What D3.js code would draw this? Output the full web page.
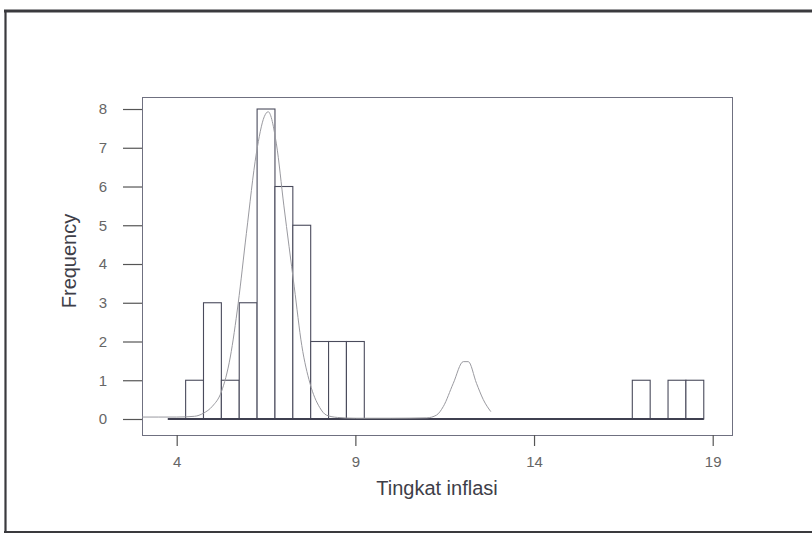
<!DOCTYPE html>
<html>
<head>
<meta charset="utf-8">
<script src="https://cdn.jsdelivr.net/npm/d3@7/dist/d3.min.js"></script>
<style>
  html, body { margin: 0; padding: 0; background: #fff; }
  svg { display: block; }
  text { font-family: "Liberation Sans", Arial, sans-serif; }
</style>
</head>
<body>
<svg id="chart" width="812" height="539"></svg>
<script>
// Histogram of inflation rates: lower bin edges (width 0.5) and counts
const binStarts = [3.75, 4.25, 4.75, 5.25, 5.75, 6.25, 6.75, 7.25, 7.75, 8.25,
                   8.75, 9.25, 9.75, 10.25, 10.75, 11.25, 11.75, 12.25, 12.75, 13.25,
                   13.75, 14.25, 14.75, 15.25, 15.75, 16.25, 16.75, 17.25, 17.75, 18.25];
const counts    = [0, 1, 3, 1, 3, 8, 6, 5, 2, 2,
                   2, 0, 0, 0, 0, 0, 0, 0, 0, 0,
                   0, 0, 0, 0, 0, 0, 1, 0, 1, 1];
const binWidth = 0.5;

// Fitted density curve (scaled to frequency)
const curveX = [3.03, 3.5, 4.0, 4.5, 4.75, 5.0, 5.25, 5.5, 5.72, 5.95, 6.23, 6.45, 6.56,
                6.79, 7.0, 7.29, 7.5, 7.73, 8.0, 8.19, 8.5, 9.0, 10.0, 11.0,
                11.27, 11.46, 11.74, 12.02, 12.16, 12.39, 12.58, 12.79];
const curveY = [0.05, 0.05, 0.05, 0.07, 0.15, 0.33, 0.70, 1.6, 2.98, 4.79, 6.86, 7.8, 7.93,
                7.1, 5.5, 3.41, 1.9, 0.92, 0.3, 0.1, 0.04, 0.02, 0.02, 0.03,
                0.10, 0.32, 0.92, 1.48, 1.48, 0.92, 0.50, 0.19];

const xTicks = [4, 9, 14, 19];
const yTicks = [0, 1, 2, 3, 4, 5, 6, 7, 8];
const xTitle = "Tingkat inflasi";
const yTitle = "Frequency";

const svg = d3.select("#chart");

// plot box
const box = { left: 142, top: 97, right: 732, bottom: 435 };

const x = d3.scaleLinear().domain([3.029, 19.54]).range([box.left, box.right]);
const y = d3.scaleLinear().domain([-0.413, 8.31]).range([box.bottom, box.top]);

// outer frame
const frame = svg.append("g").attr("stroke", "#3a3a3e").attr("fill", "none");
frame.append("line").attr("x1", 4).attr("x2", 812).attr("y1", 11).attr("y2", 11).attr("stroke-width", 3);
frame.append("line").attr("x1", 5.5).attr("x2", 5.5).attr("y1", 10).attr("y2", 533).attr("stroke-width", 2.2);
frame.append("line").attr("x1", 4).attr("x2", 812).attr("y1", 532).attr("y2", 532).attr("stroke-width", 2.2);

// plot border
svg.append("rect")
  .attr("x", box.left + 0.5).attr("y", box.top + 0.5)
  .attr("width", box.right - box.left).attr("height", box.bottom - box.top)
  .attr("fill", "none").attr("stroke", "#6f7080").attr("stroke-width", 1);

// y axis (ticks outside the left side of the box)
const yAxis = d3.axisLeft(y).tickValues(yTicks).tickFormat(d3.format("d"))
  .tickSize(19).tickPadding(16);
const gy = svg.append("g").attr("transform", `translate(${box.left},0)`).call(yAxis);
gy.select(".domain").remove();
gy.selectAll(".tick line").attr("stroke", "#555").attr("stroke-width", 1.2);
gy.selectAll(".tick text").attr("fill", "#666").style("font-size", "15px")
  .style("font-family", "'Liberation Sans', Arial, sans-serif");

// x axis (ticks below the box)
const xAxis = d3.axisBottom(x).tickValues(xTicks).tickFormat(d3.format("d"))
  .tickSize(11).tickPadding(10);
const gx = svg.append("g").attr("transform", `translate(0,${box.bottom})`).call(xAxis);
gx.select(".domain").remove();
gx.selectAll(".tick line").attr("stroke", "#555").attr("stroke-width", 1.2);
gx.selectAll(".tick text").attr("fill", "#666").style("font-size", "15px")
  .style("font-family", "'Liberation Sans', Arial, sans-serif");

// histogram bars
const bins = binStarts.map((s, i) => ({ x0: s, x1: s + binWidth, n: counts[i] }));
svg.append("g")
  .selectAll("rect")
  .data(bins)
  .join("rect")
  .attr("x", d => x(d.x0))
  .attr("y", d => y(d.n))
  .attr("width", d => x(d.x1) - x(d.x0))
  .attr("height", d => y(0) - y(d.n))
  .attr("fill", "#fff")
  .attr("stroke", "#4a4b5c")
  .attr("stroke-width", 1.1);

// baseline under the bins
svg.append("line")
  .attr("x1", x(binStarts[0])).attr("x2", x(binStarts[binStarts.length - 1] + binWidth))
  .attr("y1", y(0)).attr("y2", y(0))
  .attr("stroke", "#3f4050").attr("stroke-width", 2);

// density curve
const pts = curveX.map((v, i) => [v, curveY[i]]);
svg.append("path")
  .datum(pts)
  .attr("d", d3.line().x(d => x(d[0])).y(d => y(d[1])).curve(d3.curveMonotoneX))
  .attr("fill", "none")
  .attr("stroke", "#9a9aa0")
  .attr("stroke-width", 1);

// axis titles
svg.append("text")
  .attr("x", (box.left + box.right) / 2).attr("y", 495)
  .attr("text-anchor", "middle")
  .attr("fill", "#3e3e48")
  .style("font-size", "20px")
  .text(xTitle);

svg.append("text")
  .attr("transform", `translate(76,261) rotate(-90)`)
  .attr("text-anchor", "middle")
  .attr("fill", "#3e3e48")
  .style("font-size", "20px")
  .text(yTitle);
</script>
</body>
</html>
